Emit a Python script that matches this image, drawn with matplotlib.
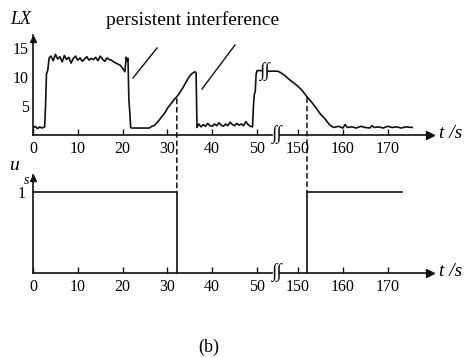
import numpy as np
import matplotlib
matplotlib.use('Agg')
import matplotlib.pyplot as plt
from matplotlib.patches import ConnectionPatch
from matplotlib.lines import Line2D

plt.rcParams['font.family'] = ['Liberation Serif', 'DejaVu Serif']

# light intensity LX (top), before the time-axis break
lx_t1 = [0.0, 0.5, 1.0, 1.5, 2.0, 2.6, 2.8, 3.0, 3.3, 3.6,
         4.0, 4.5, 5.0, 5.5, 6.0, 6.5, 7.0, 7.5, 8.0, 8.5, 9.0, 9.5, 10.0, 10.5,
         11.0, 11.5, 12.0, 12.5, 13.0, 13.5, 14.0, 14.5, 15.0, 15.5, 16.0, 16.5,
         17.0, 17.5, 18.0, 18.5, 19.0, 19.5, 20.0, 20.5, 20.8, 21.0, 21.2, 21.4,
         21.6, 21.8, 22.0, 26.0, 26.5, 27.0, 27.5, 28.0, 28.5, 29.0, 29.5, 30.0,
         30.5, 31.0, 31.5, 32.0, 32.5, 33.0, 33.5, 34.0, 34.5, 35.0, 35.5, 36.1,
         36.4, 36.6, 37.0, 37.5, 38.0, 38.5, 39.0, 39.5, 40.0, 40.5, 41.0, 41.5,
         42.0, 42.5, 43.0, 43.5, 44.0, 44.5, 45.0, 45.5, 46.0, 46.5, 47.0, 47.5,
         48.0, 48.5, 49.0, 49.2, 49.4, 49.6, 49.8, 50.0, 51.0]
lx_v1 = [1.2, 1.5, 1.1, 1.4, 1.2, 1.4, 5.0, 10.5, 11.2, 13.3,
         13.6, 12.8, 13.9, 13.1, 13.5, 12.6, 13.7, 13.0, 13.4, 12.4, 13.2, 13.6, 12.9, 13.3,
         12.7, 13.1, 13.5, 12.9, 13.2, 13.0, 13.4, 12.8, 13.6, 13.1, 12.7, 13.3,
         13.0, 12.9, 12.6, 12.4, 12.2, 12.0, 11.5, 10.9, 13.4, 12.8, 13.2, 6.0,
         4.0, 1.3, 1.2, 1.2, 1.5, 1.6, 2.0, 2.4, 2.9, 3.4, 3.9, 4.6,
         5.1, 5.6, 6.1, 6.5, 7.0, 7.6, 8.2, 8.9, 9.6, 10.2, 10.6, 10.9,
         10.7, 1.3, 1.9, 1.4, 1.8, 1.5, 2.0, 1.6, 1.5, 1.9, 1.6, 2.1,
         1.7, 1.5, 1.9, 1.6, 2.2, 1.8, 1.6, 2.0, 1.7, 1.9, 1.6, 2.3,
         1.8, 1.5, 1.4, 5.0, 7.0, 7.5, 10.5, 11.1, 11.1]

# after the break
lx_t2 = [143.3, 145.5, 146.0, 147.0, 148.0, 149.0, 150.0, 151.0, 152.0, 153.0,
         154.0, 155.0, 156.0, 157.0, 157.5, 158.0, 159.0, 160.0, 160.5, 161.0,
         162.0, 163.0, 164.0, 165.0, 166.0, 166.5, 167.0, 168.0, 169.0, 170.0,
         171.0, 172.0, 173.0, 174.0, 175.5]
lx_v2 = [11.0, 11.0, 10.8, 10.3, 9.6, 9.0, 8.4, 7.6, 6.6, 5.7,
         4.7, 3.6, 2.8, 1.8, 1.5, 1.3, 1.5, 1.2, 1.8, 1.3,
         1.4, 1.2, 1.5, 1.3, 1.2, 1.6, 1.3, 1.4, 1.2, 1.5,
         1.3, 1.4, 1.2, 1.4, 1.3]

# switch signal u_s (bottom)
us_t1 = [0.0, 32.1, 32.1]
us_v1 = [1, 1, 0]
us_t2 = [152.0, 152.0, 173.2]
us_v2 = [0, 1, 1]

tick_t = [0, 10, 20, 30, 40, 50, 150, 160, 170]
tick_lab = ['0', '10', '20', '30', '40', '50', '150', '160', '170']
switch_t = [32.1, 152.0]
switch_lx = [6.2, 6.4]


def xmap(t):
    t = np.asarray(t, float)
    return np.where(t < 100, t, t - 150 + 59.15)


W, H = 468, 358
fig = plt.figure(figsize=(W / 100, H / 100), dpi=100)


def fx(x, y):
    return x / W, 1 - y / H


xmax = 89.5
ax1 = fig.add_axes([33 / W, 1 - 135 / H, 401 / W, 100 / H])
ax2 = fig.add_axes([33 / W, 1 - 273 / H, 401 / W, 98 / H])
ax1.set_ylim(0, 17.24)
ax2.set_ylim(0, 1.21)

col = '#111111'
for ax in (ax1, ax2):
    ax.set_xlim(0, xmax)
    ax.patch.set_alpha(0)
    for s in ax.spines.values():
        s.set_visible(False)
    top = ax.get_ylim()[1]
    # axes with a break
    ax.plot([0, 53.4], [0, 0], color=col, lw=1.2, clip_on=False)
    ax.plot([55.2, 88.6], [0, 0], color=col, lw=1.2, clip_on=False)
    ax.plot([88.6], [0], marker='>', ms=6, color=col, clip_on=False)
    ax.plot([0, 0], [0, top], color=col, lw=1.2, clip_on=False)
    ax.plot([0], [top * 0.965], marker='^', ms=5, color=col, clip_on=False)
    ax.text(54.3, 0, '\u222b\u222b', fontsize=14, ha='center', va='center',
            style='italic', color=col)
    ax.set_xticks(xmap(tick_t))
    ax.set_xticklabels(tick_lab, fontsize=11.5)
    ax.tick_params(axis='x', direction='in', length=4, width=1, color=col, pad=4)
    ax.tick_params(axis='y', length=0)

ax1.set_yticks([5, 10, 15])
ax1.set_yticklabels(['5', '10', '15'], fontsize=11.5)
ax1.tick_params(axis='y', pad=3)
ax2.set_yticks([1])
ax2.set_yticklabels(['1'], fontsize=11.5)
ax2.tick_params(axis='y', pad=5)

ax1.plot(xmap(lx_t1), lx_v1, color=col, lw=1.2)
ax1.plot(xmap(lx_t2), lx_v2, color=col, lw=1.2)
ax1.text(51.75, 11.0, '\u222b\u222b', fontsize=14, ha='center', va='center',
         style='italic', color=col)

ax2.plot(xmap(us_t1), us_v1, color=col, lw=1.2, clip_on=False)
ax2.plot(xmap(us_t2), us_v2, color=col, lw=1.2, clip_on=False)

for t, v in zip(switch_t, switch_lx):
    x = float(xmap(t))
    cp = ConnectionPatch((x, v), (x, 1.0), coordsA='data', coordsB='data',
                         axesA=ax1, axesB=ax2, color=col, lw=1.1,
                         linestyle=(0, (3, 2.5)))
    fig.add_artist(cp)

# labels
fig.text(*fx(21, 19), 'LX', fontsize=13, style='italic', ha='center', va='center')
fig.text(*fx(14, 166), 'u', fontsize=14, style='italic', ha='center', va='center')
fig.text(*fx(27, 180), 's', fontsize=10, style='italic', ha='center', va='center')
for yy in (134, 272):
    fig.text(*fx(451, yy), 't /s', fontsize=14, style='italic', ha='center', va='center')
fig.text(*fx(193, 20), 'persistent interference', fontsize=14, ha='center', va='center')
fig.text(*fx(209, 347), '(b)', fontsize=13, ha='center', va='center')

for (x0, y0), (x1, y1) in [((133, 78), (157, 48)), ((202, 89), (235, 45))]:
    a, b = fx(x0, y0)
    c, d = fx(x1, y1)
    fig.add_artist(Line2D([a, c], [b, d], color=col, lw=1.0))

fig.savefig('out.png', dpi=100)
